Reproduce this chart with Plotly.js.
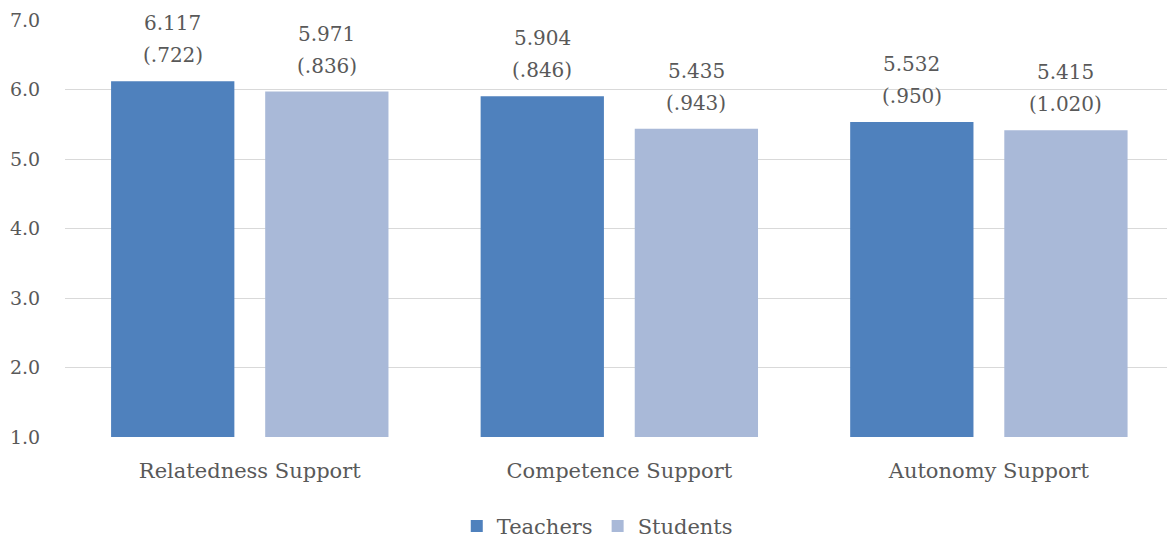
<!DOCTYPE html>
<html>
<head>
<meta charset="utf-8">
<script src="https://cdn.plot.ly/plotly-3.0.1.min.js"></script>
<style>
  html, body { margin: 0; padding: 0; background: #fff; }
  #chart { width: 1167px; height: 539px; }
</style>
</head>
<body>
<div id="chart"></div>
<script>
// Mean support ratings (with standard deviations) by group
const categories = ['Relatedness Support', 'Competence Support', 'Autonomy Support'];
const teacherMeans = [6.117, 5.904, 5.532];
const teacherSDs = ['.722', '.846', '.950'];
const studentMeans = [5.971, 5.435, 5.415];
const studentSDs = ['.836', '.943', '1.020'];
const yTicks = [1, 2, 3, 4, 5, 6, 7];

const FONT = '"DejaVu Serif", "Liberation Serif", serif';
const TEXT_COLOR = '#595959';
const AXIS_MIN = 1;
const BAR_GAP = 0.166;
const BAR_GROUP_GAP = 0.2;

function barTrace(name, means, color) {
  return {
    type: 'bar',
    name: name,
    x: categories,
    y: means.map(v => v - AXIS_MIN),   // bar heights measured from the 1.0 baseline
    base: AXIS_MIN,
    marker: { color: color },
    hoverinfo: 'skip'
  };
}

const teachers = barTrace('Teachers', teacherMeans, '#4F81BD');
const students = barTrace('Students', studentMeans, '#A9B9D8');

// value labels: mean on top, SD in parentheses below
const slotOffset = (1 - BAR_GAP) / 4;
const SD_SHIFT = 12;
const LINE_STEP = 32;
function valueLabels(means, sds, side) {
  const out = [];
  means.forEach((m, i) => {
    const common = {
      xref: 'x',
      yref: 'y',
      x: i + side * slotOffset,
      y: m,
      yanchor: 'bottom',
      xanchor: 'center',
      showarrow: false,
      font: { family: FONT, size: 20, color: TEXT_COLOR }
    };
    out.push(Object.assign({}, common, { text: '(' + sds[i] + ')', yshift: SD_SHIFT }));
    out.push(Object.assign({}, common, { text: m.toFixed(3), yshift: SD_SHIFT + LINE_STEP }));
  });
  return out;
}

const layout = {
  width: 1167,
  height: 539,
  margin: { l: 65, r: 0, t: 20, b: 102, autoexpand: false },
  paper_bgcolor: '#ffffff',
  plot_bgcolor: '#ffffff',
  barmode: 'group',
  bargap: BAR_GAP,
  bargroupgap: BAR_GROUP_GAP,
  showlegend: true,
  legend: {
    orientation: 'h',
    x: 0.483,
    xanchor: 'center',
    y: -0.165,
    yanchor: 'top',
    font: { family: FONT, size: 21, color: TEXT_COLOR },
    traceorder: 'normal'
  },
  xaxis: {
    type: 'category',
    range: [-0.5, 2.482],
    showgrid: false,
    showline: false,
    zeroline: false,
    ticks: 'outside',
    ticklen: 15,
    tickcolor: 'rgba(0,0,0,0)',
    tickfont: { family: FONT, size: 21, color: TEXT_COLOR }
  },
  yaxis: {
    range: [1, 7],
    tickvals: yTicks,
    ticktext: yTicks.map(v => v.toFixed(1)),
    showgrid: true,
    gridcolor: '#d9d9d9',
    gridwidth: 1,
    zeroline: false,
    showline: false,
    ticks: 'outside',
    ticklen: 20,
    tickcolor: 'rgba(0,0,0,0)',
    tickfont: { family: FONT, size: 19, color: TEXT_COLOR }
  },
  annotations: valueLabels(teacherMeans, teacherSDs, -1)
    .concat(valueLabels(studentMeans, studentSDs, 1))
};

Plotly.newPlot('chart', [teachers, students], layout, { displayModeBar: false, staticPlot: true });
</script>
</body>
</html>
